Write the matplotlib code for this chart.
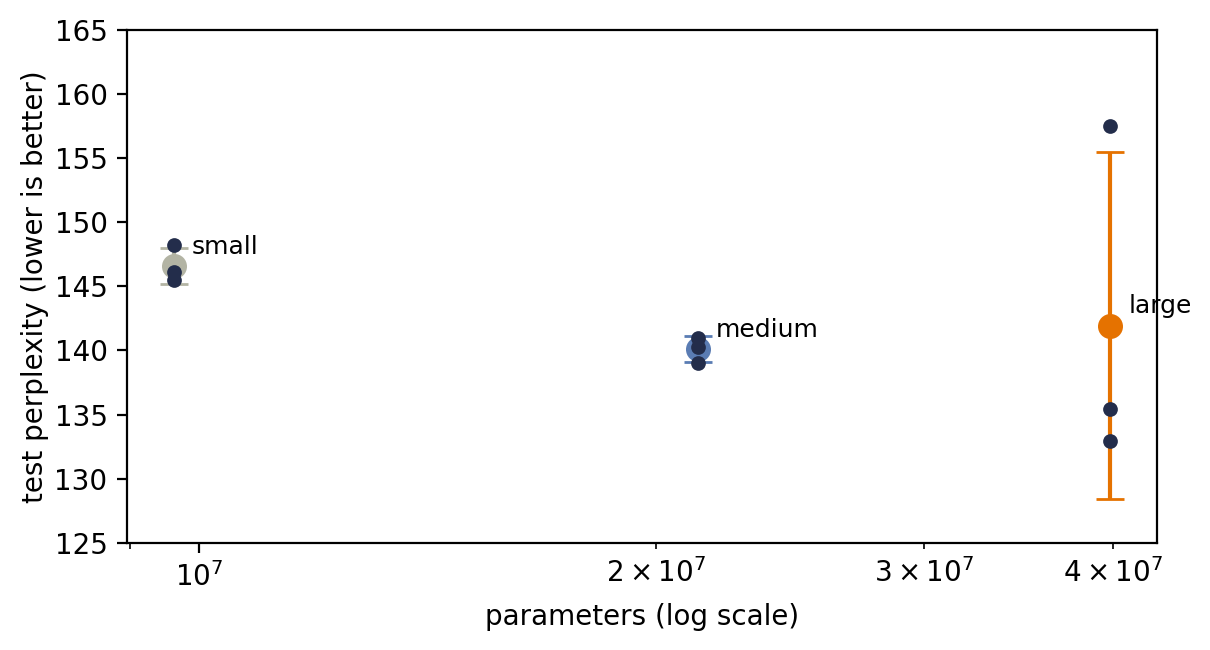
import numpy as np
import matplotlib
matplotlib.use('Agg')
import matplotlib.pyplot as plt

# model sizes and test perplexity of each run
sizes = ['small', 'medium', 'large']
params = [9.62e6, 2.13e7, 3.98e7]
runs_small = [148.2, 146.1, 145.5]
runs_medium = [141.0, 140.3, 139.0]
runs_large = [157.5, 135.4, 132.9]
colors = ['#b3b4a4', '#5a7cb3', '#e57200']
run_color = '#232d4b'

all_runs = [runs_small, runs_medium, runs_large]

fig, ax = plt.subplots(figsize=(6.05, 3.25), dpi=200)
fig.subplots_adjust(left=0.105, right=0.956, top=0.954, bottom=0.165)

for name, x, runs, c in zip(sizes, params, all_runs, colors):
    runs = np.array(runs)
    mean = runs.mean()
    std = runs.std(ddof=1)
    ax.errorbar([x], [mean], yerr=[std], fmt='o', color=c, markersize=8,
                elinewidth=1.5, capsize=5, zorder=2)
    ax.plot([x] * len(runs), runs, 'o', color=run_color, ms=5.3, mew=0, zorder=3)
    ax.text(x * 1.028, mean + 1.5, name, fontsize=9, va='center', ha='left')

ax.set_xscale('log')
ax.set_ylim(125, 165)
ax.set_xlabel('parameters (log scale)')
ax.set_ylabel('test perplexity (lower is better)', labelpad=2)

plt.savefig('out.png', dpi=200)
